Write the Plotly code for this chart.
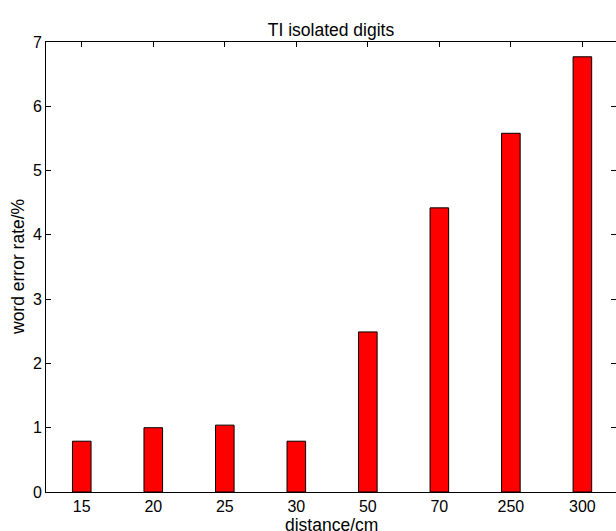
import plotly.graph_objects as go

categories = ["15", "20", "25", "30", "50", "70", "250", "300"]
wer = [0.79, 1.0, 1.04, 0.79, 2.49, 4.42, 5.58, 6.77]
y_ticks = [0, 1, 2, 3, 4, 5, 6, 7]

positions = list(range(1, len(categories) + 1))

W, H = 616, 531
ml, mr, mt, mb = 46, 0, 42, 39
family = "Liberation Sans, Arial, Helvetica, sans-serif"
font = dict(family=family, size=16, color="black")
tfont = dict(family=family, size=17.5, color="black")

fig = go.Figure()
fig.add_trace(go.Bar(
    x=positions, y=wer, width=0.26,
    marker=dict(color="#ff0000", line=dict(color="black", width=1)),
))

fig.update_layout(
    width=W, height=H,
    margin=dict(l=ml, r=mr, t=mt, b=mb),
    paper_bgcolor="white", plot_bgcolor="white",
    font=font, showlegend=False,
    title=dict(text="TI isolated digits", x=331 / W, xanchor="center",
               y=1 - 30 / H, yanchor="middle", yref="container", xref="container",
               font=tfont),
)
fig.update_xaxes(
    range=[0.5, 8.47], tickvals=positions, ticktext=categories,
    showline=True, linecolor="black", linewidth=1, mirror="ticks",
    ticks="inside", ticklen=5, tickcolor="black", showgrid=False, zeroline=False,
    layer="below traces", tickfont=font,
)
fig.update_yaxes(
    range=[0, 7], tickvals=y_ticks,
    showline=True, linecolor="black", linewidth=1, mirror="ticks",
    ticks="inside", ticklen=5, tickcolor="black", showgrid=False, zeroline=False,
    layer="below traces", tickfont=font,
)
fig.add_annotation(text="distance/cm", xref="paper", yref="paper",
                   x=(331 - ml) / (W - ml - mr), y=-(525 - (H - mb)) / (H - mt - mb),
                   xanchor="center", yanchor="middle", showarrow=False, font=tfont)
fig.add_annotation(text="word error rate/%", xref="paper", yref="paper",
                   x=-(ml - 18) / (W - ml - mr), y=0.5, textangle=-90,
                   xanchor="center", yanchor="middle", showarrow=False, font=tfont)

fig.write_html("out.html", config={"displayModeBar": False},
               post_script="document.body.style.margin='0';document.body.style.overflow='hidden';")
